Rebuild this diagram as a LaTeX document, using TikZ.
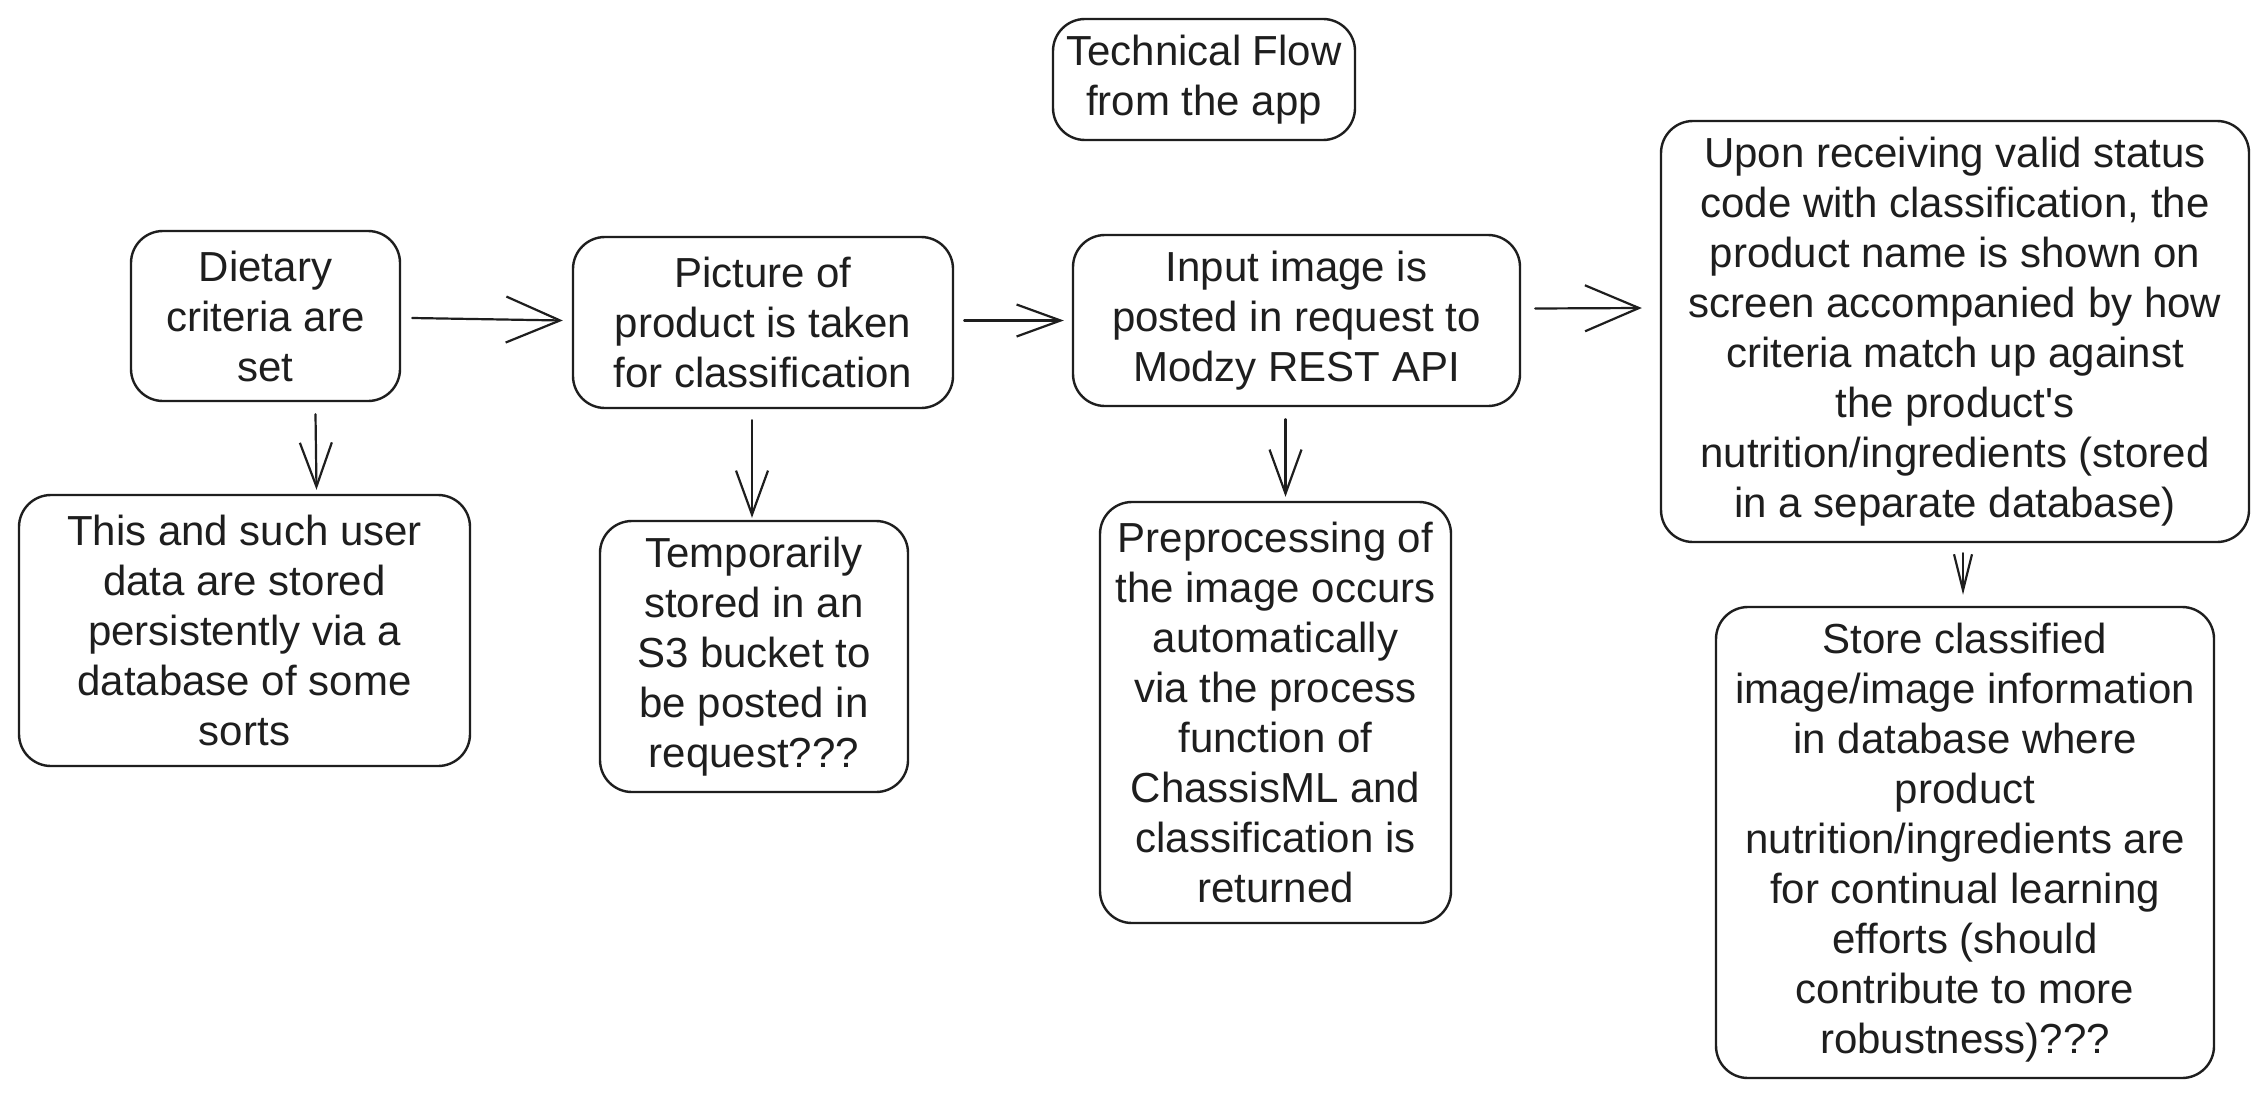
\documentclass[tikz,border=0pt]{standalone}
\usepackage{fontspec}
\setmainfont{Liberation Sans}
\newfontfamily\boxfont{Liberation Sans}
\usetikzlibrary{arrows.meta}
\definecolor{ink}{HTML}{1E1E1E}
\tikzset{
  box/.style={draw=ink, text=ink, rounded corners=16pt, line width=1.2pt, align=center,
    inner sep=0pt, font=\boxfont\fontsize{21}{25}\selectfont},
  arr/.style={draw=ink, line width=1.1pt, line cap=round, line join=round},
  bigtip/.style={-{Straight Barb[length=27pt,width=23pt,line width=1.1pt]}},
  midtip/.style={-{Straight Barb[length=22pt,width=16pt,line width=1.1pt]}},
  smalltip/.style={-{Straight Barb[length=18pt,width=9pt,line width=1.1pt]}}
}
\begin{document}
\begin{tikzpicture}[x=0.5pt,y=-0.5pt]
\useasboundingbox[fill=white] (0,0) rectangle (2268,1097);

\node[box, minimum width=151pt, minimum height=60.5pt] (title) at (1204,79.5) {Technical Flow\\from the app};

\node[box, minimum width=134.5pt, minimum height=85pt] (diet) at (265.5,316) {Dietary\\criteria are\\set};
\node[box, minimum width=190pt, minimum height=85.5pt] (pic) at (763,322.5) {Picture of\\product is taken\\for classification};
\node[box, minimum width=223.5pt, minimum height=85.5pt] (input) at (1296.5,320.5) {Input image is\\posted in request to\\Modzy REST API};
\node[box, minimum width=294pt, minimum height=210.5pt] (upon) at (1955,331.5) {Upon receiving valid status\\code with classification, the\\product name is shown on\\screen accompanied by how\\criteria match up against\\the product's\\nutrition/ingredients (stored\\in a separate database)};

\node[box, minimum width=225.5pt, minimum height=135.5pt] (this) at (244.5,630.5) {This and such user\\data are stored\\persistently via a\\database of some\\sorts};
\node[box, minimum width=154pt, minimum height=135.5pt] (temp) at (754,656.5) {Temporarily\\stored in an\\S3 bucket to\\be posted in\\request???};
\node[box, minimum width=175.5pt, minimum height=210.5pt] (prep) at (1275.5,712.5) {Preprocessing of\\the image occurs\\automatically\\via the process\\function of\\ChassisML and\\classification is\\returned};
\node[box, minimum width=249pt, minimum height=235.5pt] (store) at (1965,842.5) {Store classified\\image/image information\\in database where\\product\\nutrition/ingredients are\\for continual learning\\efforts (should\\contribute to more\\robustness)???};

% horizontal connectors
\draw[arr, bigtip] ([xshift=5.5pt,yshift=-1pt]diet.east) -- ([xshift=-4.5pt,yshift=1pt]pic.west);
\draw[arr, midtip] ([xshift=5pt,yshift=1pt]pic.east) -- ([xshift=-4pt]input.west);
\draw[arr, bigtip] ([xshift=7pt,yshift=6pt]input.east) -- ([xshift=-9pt,yshift=11.75pt]upon.west);

% vertical connectors
\draw[arr, midtip] ([xshift=25pt,yshift=-6pt]diet.south) -- ([xshift=36pt,yshift=2pt]this.north);
\draw[arr, midtip] ([xshift=-5.5pt,yshift=-5.5pt]pic.south) -- ([xshift=-1pt,yshift=1pt]temp.north);
\draw[arr, midtip] ([xshift=-5.5pt,yshift=-6pt]input.south) -- ([xshift=5pt,yshift=2pt]prep.north);
\draw[arr, smalltip] ([xshift=4pt,yshift=-5pt]upon.south) -- ([xshift=-1pt,yshift=5.5pt]store.north);
\end{tikzpicture}
\end{document}
